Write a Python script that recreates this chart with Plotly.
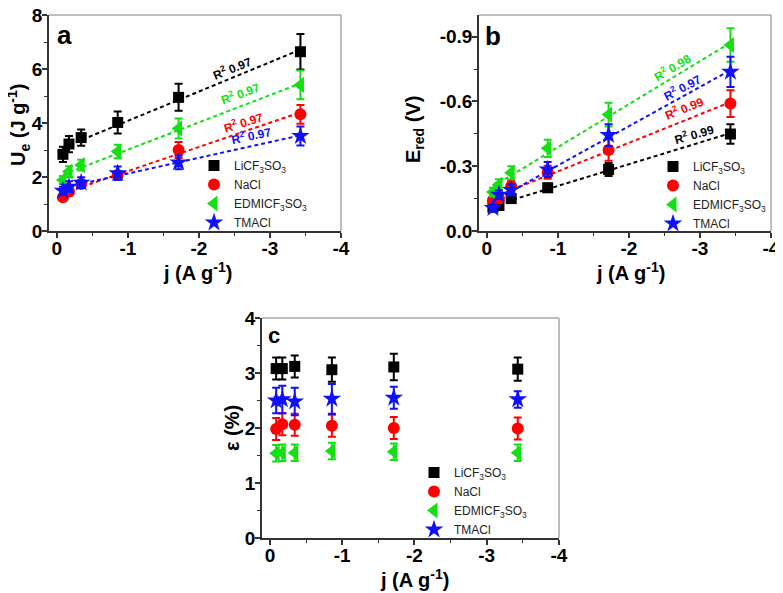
import numpy as np
import plotly.graph_objects as go

# current density (A/g), same for every series / panel
j = [-0.086, -0.171, -0.343, -0.857, -1.714, -3.429]

names = ["LiCF<sub>3</sub>SO<sub>3</sub>", "NaCl", "EDMICF<sub>3</sub>SO<sub>3</sub>", "TMACl"]
colors = ["#000000", "#ff0000", "#12e012", "#1010ff"]
symbols = ["square", "circle", "triangle-left", "star"]
msizes = [11, 12, 14, 14]

# panel a: U_e (J/g)
ue_li = [2.84, 3.22, 3.46, 4.02, 4.95, 6.64]
ue_na = [1.25, 1.46, 1.74, 2.07, 3.00, 4.32]
ue_ed = [1.89, 2.20, 2.44, 2.94, 3.80, 5.41]
ue_tm = [1.49, 1.64, 1.79, 2.14, 2.54, 3.52]
ue_li_err = [0.28, 0.30, 0.30, 0.41, 0.50, 0.66]
ue_na_err = [0.12, 0.15, 0.15, 0.15, 0.30, 0.35]
ue_ed_err = [0.15, 0.20, 0.20, 0.25, 0.37, 0.53]
ue_tm_err = [0.15, 0.20, 0.20, 0.25, 0.25, 0.35]
r2_a = ["0.97", "0.97", "0.97", "0.97"]

# panel b: E_red (V)
er_li = [-0.110, -0.118, -0.150, -0.200, -0.285, -0.449]
er_na = [-0.142, -0.150, -0.207, -0.272, -0.375, -0.590]
er_ed = [-0.180, -0.215, -0.270, -0.383, -0.539, -0.861]
er_tm = [-0.106, -0.168, -0.190, -0.285, -0.444, -0.737]
er_li_err = [0.010, 0.015, 0.020, 0.020, 0.030, 0.045]
er_na_err = [0.015, 0.020, 0.025, 0.030, 0.050, 0.062]
er_ed_err = [0.020, 0.025, 0.030, 0.040, 0.055, 0.078]
er_tm_err = [0.015, 0.020, 0.025, 0.035, 0.050, 0.070]
r2_b = ["0.99", "0.99", "0.98", "0.97"]

# panel c: epsilon (%)
ep_li = [3.08, 3.08, 3.12, 3.06, 3.11, 3.07]
ep_na = [1.98, 2.07, 2.06, 2.04, 2.00, 1.99]
ep_ed = [1.54, 1.55, 1.55, 1.58, 1.57, 1.55]
ep_tm = [2.50, 2.52, 2.48, 2.53, 2.55, 2.52]
ep_li_err = [0.20, 0.20, 0.20, 0.22, 0.24, 0.21]
ep_na_err = [0.20, 0.20, 0.20, 0.20, 0.20, 0.20]
ep_ed_err = [0.15, 0.15, 0.15, 0.15, 0.15, 0.15]
ep_tm_err = [0.23, 0.25, 0.25, 0.27, 0.20, 0.15]

x_ticks = [0, -1, -2, -3, -4]
x_ticktext = ["0", "-1", "-2", "-3", "-4"]
yb_ticks = [0, -0.3, -0.6, -0.9]
yb_ticktext = ["0.0", "-0.3", "-0.6", "-0.9"]

W, H = 783, 593
OFF = 8  # the page body adds an 8px margin around the plot div
FONT = "Liberation Sans, Arial, sans-serif"


def px(x, y):
    # screen pixel -> paper fraction
    return (x - OFF) / W, 1 - (y - OFF) / H


fig = go.Figure()

panels = [
    ("x", "y", "legend", [ue_li, ue_na, ue_ed, ue_tm], [ue_li_err, ue_na_err, ue_ed_err, ue_tm_err], True),
    ("x2", "y2", "legend2", [er_li, er_na, er_ed, er_tm], [er_li_err, er_na_err, er_ed_err, er_tm_err], True),
    ("x3", "y3", "legend3", [ep_li, ep_na, ep_ed, ep_tm], [ep_li_err, ep_na_err, ep_ed_err, ep_tm_err], False),
]

for xa, ya, lg, series, errs, with_fit in panels:
    if with_fit:
        for k in range(4):
            slope, icpt = np.polyfit(j, series[k], 1)
            xs = [j[0], j[-1]]
            fig.add_trace(go.Scatter(x=xs, y=[slope * v + icpt for v in xs], mode="lines",
                                     line=dict(color=colors[k], width=2, dash="4px,3px"),
                                     xaxis=xa, yaxis=ya, showlegend=False, hoverinfo="skip"))
    for k in range(4):
        fig.add_trace(go.Scatter(x=j, y=series[k], mode="markers", name=names[k],
                                 marker=dict(symbol=symbols[k], size=msizes[k], color=colors[k]),
                                 error_y=dict(type="data", array=errs[k], visible=True,
                                              color=colors[k], thickness=2, width=4),
                                 xaxis=xa, yaxis=ya, legend=lg))

tick_font = dict(family=FONT, size=19, color="#000", weight="bold")


def xaxis(dom, anchor):
    return dict(domain=dom, anchor=anchor, range=[0.11, -4], tickvals=x_ticks, ticktext=x_ticktext,
                ticks="outside", ticklen=5, tickwidth=1.5, tickcolor="#333", showline=True,
                linecolor="#333", linewidth=1.5, showgrid=False, zeroline=False, tickfont=tick_font,
                automargin=False, ticklabelstandoff=-6, ticklabeloverflow="allow",
                minor=dict(ticks="outside", ticklen=3, tickwidth=1.2, tickcolor="#333", dtick=0.5))


def yaxis(dom, anchor, rng, **kw):
    d = dict(domain=dom, anchor=anchor, range=rng, ticks="outside", ticklen=5, tickwidth=1.5,
             tickcolor="#333", showline=True, linecolor="#333", linewidth=1.5, showgrid=False,
             zeroline=False, tickfont=tick_font, automargin=False, ticklabelstandoff=-4,
             ticklabeloverflow="allow")
    d.update(kw)
    return d


def xdom(x0, x1):
    return [px(x0, 0)[0], px(x1, 0)[0]]


def ydom(y_bottom, y_top):
    return [px(0, y_bottom)[1], px(0, y_top)[1]]


legend_style = dict(bgcolor="rgba(0,0,0,0)", borderwidth=0, itemwidth=30, tracegroupgap=0,
                    font=dict(family=FONT, size=12, color="#222"), xanchor="left", yanchor="top")

fig.update_layout(
    width=W, height=H, autosize=False,
    margin=dict(l=0, r=0, t=0, b=0),
    paper_bgcolor="white", plot_bgcolor="white",
    xaxis=xaxis(xdom(49, 341), "y"),
    yaxis=yaxis(ydom(231, 15), "x", [0, 8], dtick=2,
                minor=dict(ticks="outside", ticklen=3, tickwidth=1.2, tickcolor="#333", dtick=1)),
    xaxis2=xaxis(xdom(479, 771), "y2"),
    yaxis2=yaxis(ydom(231, 15), "x2", [0, -1.0], tickvals=yb_ticks, ticktext=yb_ticktext,
                 minor=dict(ticks="outside", ticklen=3, tickwidth=1.2, tickcolor="#333", dtick=0.15)),
    xaxis3=xaxis(xdom(262, 559), "y3"),
    yaxis3=yaxis(ydom(538, 318), "x3", [0, 4], dtick=1,
                 minor=dict(ticks="outside", ticklen=3, tickwidth=1.2, tickcolor="#333", dtick=0.5)),
    legend=dict(x=px(194, 0)[0], y=px(0, 151)[1], **legend_style),
    legend2=dict(x=px(653, 0)[0], y=px(0, 152)[1], **legend_style),
    legend3=dict(x=px(414, 0)[0], y=px(0, 458)[1], **legend_style),
)

# gray top / right frame lines
for xa, ya in [("x", "y"), ("x2", "y2"), ("x3", "y3")]:
    fig.add_shape(type="line", xref=xa + " domain", yref=ya + " domain", x0=0, x1=1, y0=1, y1=1,
                  line=dict(color="#a8a8a8", width=1.5))
    fig.add_shape(type="line", xref=xa + " domain", yref=ya + " domain", x0=1, x1=1, y0=0, y1=1,
                  line=dict(color="#a8a8a8", width=1.5))

bold = dict(family=FONT, color="#000", weight="bold")

# panel letters and axis titles (screen pixel positions)
texts = [
    ("a", 64, 35, 26, 0), ("b", 493, 36, 26, 0), ("c", 274, 335, 22, 0),
    ("U<sub>e</sub> (J g<sup>-1</sup>)", 19, 125, 20, -90),
    ("j (A g<sup>-1</sup>)", 197, 271, 20, 0),
    ("E<sub>red</sub> (V)", 415, 130, 20, -90),
    ("j (A g<sup>-1</sup>)", 630, 271, 20, 0),
    ("ε (%)", 232, 428, 20, -90),
    ("j (A g<sup>-1</sup>)", 414, 578, 20, 0),
]
for t, x, y, s, ang in texts:
    xp, yp = px(x, y)
    fig.add_annotation(text=t, x=xp, y=yp, xref="paper", yref="paper", showarrow=False,
                       xanchor="center", yanchor="middle",
                       textangle=ang, font=dict(size=s, **bold))

# R^2 labels along the fit lines
r2_pos_a = [(-2.46, 6.04, -22), (-2.62, 4.05, -17), (-2.58, 5.12, -20), (-2.74, 3.56, -12)]
r2_pos_b = [(-2.91, -0.448, -16), (-2.77, -0.568, -22), (-2.61, -0.76, -31), (-2.75, -0.666, -28)]
for (xa, ya, pos, r2) in [("x", "y", r2_pos_a, r2_a), ("x2", "y2", r2_pos_b, r2_b)]:
    for k in range(4):
        fig.add_annotation(text="R<sup>2</sup> " + r2[k], x=pos[k][0], y=pos[k][1], xref=xa, yref=ya,
                           showarrow=False, textangle=pos[k][2],
                           font=dict(family=FONT, size=12, color=colors[k], weight="bold"))

fig.write_html("out.html")
